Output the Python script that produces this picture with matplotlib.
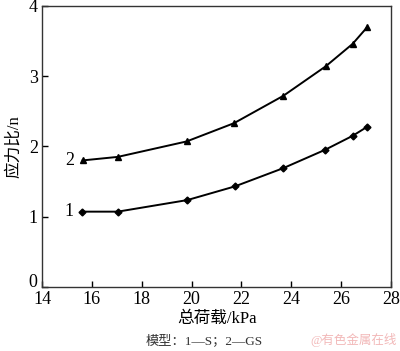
import matplotlib
matplotlib.use("Agg")
import matplotlib.pyplot as plt
from matplotlib.transforms import ScaledTranslation

load_s = [15.6, 17.04, 19.83, 21.74, 23.68, 25.35, 26.46, 27.05]
ratio_s = [1.07, 1.07, 1.235, 1.43, 1.69, 1.95, 2.15, 2.28]
load_gs = [15.63, 17.04, 19.8, 21.7, 23.68, 25.38, 26.46, 27.05]
ratio_gs = [1.80, 1.85, 2.07, 2.33, 2.72, 3.14, 3.46, 3.70]
xticks = [14, 16, 18, 20, 22, 24, 26, 28]
yticks = [0, 1, 2, 3, 4]

serif = ["Liberation Serif", "DejaVu Serif"]
mixed = ["Liberation Serif", "Noto Sans CJK SC", "DejaVu Sans"]

fig = plt.figure(figsize=(4.0, 3.51), dpi=100)
ax = fig.add_axes([0.105, 0.183, 0.8725, 0.8])

ax.plot(load_s, ratio_s, color="black", lw=1.4, marker="D", ms=3.5)
ax.plot(load_gs, ratio_gs, color="black", lw=1.4, marker="^", ms=5)

ax.text(load_s[0] - 0.35, ratio_s[0], "1", ha="right", va="center",
        fontsize=13, family=serif)
ax.text(load_gs[0] - 0.35, ratio_gs[0], "2", ha="right", va="center",
        fontsize=13, family=serif)

ax.set_xlim(14, 28)
ax.set_ylim(0, 4)
ax.set_xticks(xticks)
ax.set_yticks(yticks)
ax.tick_params(direction="in", length=4, width=1, labelsize=13)
ax.tick_params(axis="x", pad=3)
ax.tick_params(axis="y", pad=3)
for lab in ax.get_xticklabels() + ax.get_yticklabels():
    lab.set_family(serif)
ylabs = ax.get_yticklabels()
up = ScaledTranslation(-1 / 100, 6 / 100, fig.dpi_scale_trans)
ylabs[0].set_transform(ylabs[0].get_transform() + up)
for s in ax.spines.values():
    s.set_linewidth(1.0)
    s.set_color("#333333")

ax.set_xlabel("总荷载/kPa", family=mixed, fontsize=12, labelpad=2)
ax.set_ylabel("应力比/n", family=mixed, fontsize=12, labelpad=4)

fig.text(0.51, 0.03, "模型：1—S；2—GS", family=mixed, fontsize=9.5,
         ha="center", va="center", color="#333333")
fig.text(0.885, 0.03, "@有色金属在线", family=mixed, fontsize=9,
         ha="center", va="center", color="#f2b8b8")

fig.savefig("out.png", dpi=100)
